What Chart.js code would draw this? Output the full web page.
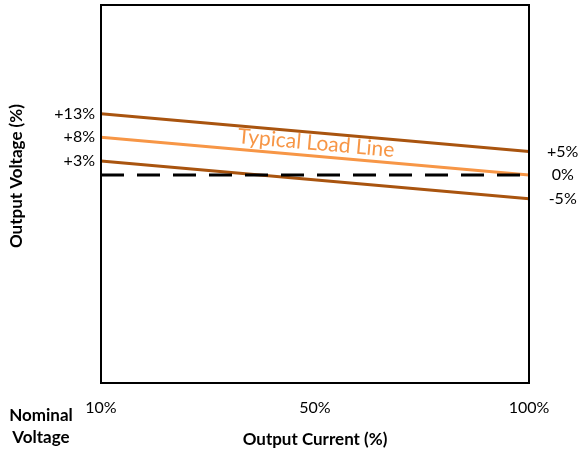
<!DOCTYPE html>
<html>
<head>
<meta charset="utf-8">
<script src="https://cdn.jsdelivr.net/npm/chart.js@4/dist/chart.umd.min.js"></script>
<style>
  html,body{margin:0;padding:0;background:#fff;}
  #wrap{width:579px;height:453px;position:relative;}
</style>
</head>
<body>
<div id="wrap"><canvas id="c"></canvas></div>
<script>
// chart values
const xLabels=['10%','50%','100%'];
const upperLimit=[13,null,5];
const typicalLoad=[8,null,0];
const lowerLimit=[3,null,-5];
const nominal=[0,null,0];
const leftTicks=[3,8,13];
const rightTicks=[-5,0,5];
const yRange=[-44,36];

const FONT='Lato, "Open Sans", sans-serif';
const DARK='#A9540F';
const LIGHT='#F79646';

const fmt=v=>(v>0?'+':'')+v+'%';

// frame + extra labels
const extras={
  id:'extras',
  afterDatasetsDraw(chart){
    const {ctx,chartArea:a,scales:{x,y}}=chart;
    ctx.save();
    ctx.strokeStyle='#000';
    ctx.lineWidth=2;
    ctx.strokeRect(a.left,a.top,a.right-a.left,a.bottom-a.top);

    // label along the typical load line
    const x0=x.getPixelForValue(0), x1=x.getPixelForValue(2);
    const y0=y.getPixelForValue(typicalLoad[0]), y1=y.getPixelForValue(typicalLoad[2]);
    const ang=Math.atan2(y1-y0,x1-x0);
    const cx=(x0+x1)/2, cy=(y0+y1)/2;
    ctx.translate(cx+13*Math.sin(ang),cy-13*Math.cos(ang));
    ctx.rotate(ang);
    ctx.fillStyle=LIGHT;
    ctx.font='21px '+FONT;
    ctx.textAlign='center';
    ctx.textBaseline='middle';
    ctx.fillText('Typical Load Line',0,0);
    ctx.restore();

    ctx.save();
    ctx.fillStyle='#000';
    ctx.font='bold 17px '+FONT;
    ctx.textAlign='center';
    ctx.textBaseline='middle';
    ctx.fillText('Nominal',41,416);
    ctx.fillText('Voltage',41,438);
    ctx.translate(17,y.getPixelForValue(0)+1);
    ctx.rotate(-Math.PI/2);
    ctx.fillText('Output Voltage (%)',0,0);
    ctx.restore();
  }
};

const lineSet=(data,color,extra)=>Object.assign({
  data,borderColor:color,borderWidth:3,pointRadius:0,spanGaps:true,tension:0,fill:false,yAxisID:'y'
},extra||{});

const noPad=s=>{s.paddingTop=0;s.paddingBottom=0;};

new Chart(document.getElementById('c'),{
  type:'line',
  data:{
    labels:xLabels,
    datasets:[
      lineSet(nominal,'#000',{borderDash:[23,13],borderWidth:3}),
      lineSet(upperLimit,DARK),
      lineSet(lowerLimit,DARK),
      lineSet(typicalLoad,LIGHT)
    ]
  },
  options:{
    responsive:true,
    maintainAspectRatio:false,
    animation:false,
    layout:{padding:{top:5,left:0,right:0,bottom:0}},
    plugins:{legend:{display:false},tooltip:{enabled:false}},
    scales:{
      x:{
        type:'category',
        offset:false,
        grid:{display:false,drawTicks:false},
        border:{display:false},
        ticks:{autoSkip:false,maxRotation:0,padding:15,color:'#000',font:{family:FONT,size:16}},
        title:{display:true,text:'Output Current (%)',color:'#000',font:{family:FONT,size:17,weight:'bold'},padding:{top:0,bottom:3}},
        afterFit:s=>{s.height=70;}
      },
      y:{
        position:'left',
        min:yRange[0],max:yRange[1],
        grid:{display:false,drawTicks:false},
        border:{display:false},
        afterBuildTicks:s=>{s.ticks=leftTicks.map(v=>({value:v}));},
        ticks:{padding:6,color:'#000',font:{family:FONT,size:16},callback:v=>fmt(v)},
        afterFit:s=>{s.width=101;noPad(s);}
      },
      y2:{
        position:'right',
        min:yRange[0],max:yRange[1],
        grid:{display:false,drawTicks:false},
        border:{display:false},
        afterBuildTicks:s=>{s.ticks=rightTicks.map(v=>({value:v}));},
        ticks:{padding:18,crossAlign:'center',color:'#000',font:{family:FONT,size:16},callback:v=>fmt(v)},
        afterFit:s=>{s.width=50;noPad(s);}
      }
    }
  },
  plugins:[extras]
});
</script>
</body>
</html>
